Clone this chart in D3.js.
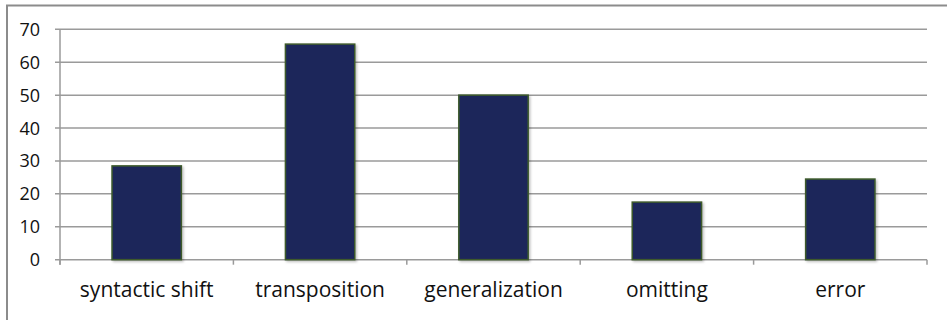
<!DOCTYPE html>
<html>
<head>
<meta charset="utf-8">
<script src="https://cdn.jsdelivr.net/npm/d3@7"></script>
<style>
  html, body { margin: 0; padding: 0; background: #fff; }
  svg { display: block; }
</style>
</head>
<body>
<svg id="chart"></svg>
<script>
// Column chart: counts per translation technique
const categories = ["syntactic shift", "transposition", "generalization", "omitting", "error"];
const values = [28.5, 65.5, 50, 17.5, 24.5];
const yTicks = [0, 10, 20, 30, 40, 50, 60, 70];

const width = 947;
const height = 320;
const plot = { left: 60, right: 927, top: 29.3, bottom: 259.7 };

const svg = d3.select("#chart")
  .attr("width", width)
  .attr("height", height);

const defs = svg.append("defs");
const shadow = defs.append("filter").attr("id", "shadow")
  .attr("x", "-10%").attr("y", "-10%").attr("width", "130%").attr("height", "130%");
shadow.append("feDropShadow")
  .attr("dx", 1.5).attr("dy", 1.5).attr("stdDeviation", 1.2)
  .attr("flood-color", "#000").attr("flood-opacity", 0.25);

// outer frame (right and bottom run off the picture)
svg.append("rect")
  .attr("x", 7).attr("y", 5.5)
  .attr("width", width).attr("height", height)
  .attr("fill", "#fff")
  .attr("stroke", "#8c8c8c").attr("stroke-width", 2);

const x = d3.scaleBand()
  .domain(categories)
  .range([plot.left, plot.right])
  .paddingInner(0.6)
  .paddingOuter(0.3);

const y = d3.scaleLinear()
  .domain([0, 70])
  .range([plot.bottom, plot.top]);

// gridlines
svg.append("g")
  .selectAll("line")
  .data(yTicks)
  .join("line")
  .attr("x1", plot.left - 5).attr("x2", plot.right)
  .attr("y1", d => y(d)).attr("y2", d => y(d))
  .attr("stroke", "#9a9a9a").attr("stroke-width", 1.5);

// y axis line
svg.append("line")
  .attr("x1", plot.left).attr("x2", plot.left)
  .attr("y1", plot.top).attr("y2", plot.bottom + 5)
  .attr("stroke", "#9a9a9a").attr("stroke-width", 1.5);

// y labels
svg.append("g")
  .selectAll("text")
  .data(yTicks)
  .join("text")
  .attr("x", 40)
  .attr("y", d => y(d))
  .attr("dy", "0.36em")
  .attr("text-anchor", "end")
  .attr("font-family", "Open Sans")
  .attr("font-size", 18)
  .attr("fill", "#111")
  .text(d => d);

// category boundary ticks
const step = x.step();
const bounds = d3.range(categories.length + 1).map(i => plot.left + i * step);
svg.append("g")
  .selectAll("line")
  .data(bounds)
  .join("line")
  .attr("x1", d => d).attr("x2", d => d)
  .attr("y1", plot.bottom).attr("y2", plot.bottom + 5)
  .attr("stroke", "#9a9a9a").attr("stroke-width", 1.5);

// bars
svg.append("g")
  .selectAll("rect")
  .data(categories.map((c, i) => ({ c, v: values[i] })))
  .join("rect")
  .attr("x", d => x(d.c))
  .attr("y", d => y(d.v))
  .attr("width", x.bandwidth())
  .attr("height", d => y(0) - y(d.v))
  .attr("fill", "#1f285a")
  .attr("stroke", "#3d5a2c")
  .attr("stroke-width", 1.5)
  .attr("filter", "url(#shadow)");

// x labels
svg.append("g")
  .selectAll("text")
  .data(categories)
  .join("text")
  .attr("x", d => x(d) + x.bandwidth() / 2)
  .attr("y", 297)
  .attr("text-anchor", "middle")
  .attr("font-family", "Open Sans")
  .attr("font-size", 21)
  .attr("fill", "#111")
  .text(d => d);
</script>
</body>
</html>
